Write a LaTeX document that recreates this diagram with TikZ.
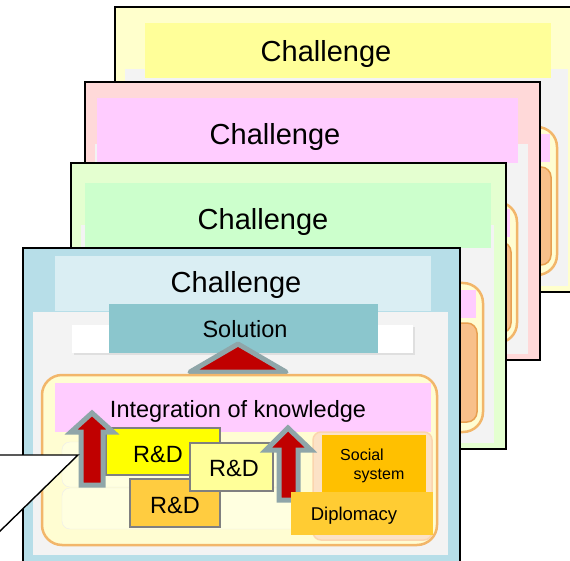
\documentclass[tikz,border=0pt]{standalone}
\usepackage{fontspec}
\setmainfont{Liberation Sans}
\usepackage{tikz}
\usetikzlibrary{positioning}

\definecolor{yellowcard}{HTML}{FFFFCC}
\definecolor{yellowtitle}{HTML}{FFFF99}
\definecolor{pinkcard}{HTML}{FFD9D9}
\definecolor{pinktitle}{HTML}{FFCCFF}
\definecolor{greencard}{HTML}{E4FFD0}
\definecolor{greentitle}{HTML}{CCFFCC}
\definecolor{frontcard}{HTML}{B7DEE8}
\definecolor{fronttitle}{HTML}{DAEEF3}
\definecolor{innergray}{HTML}{F3F3F3}
\definecolor{solfill}{HTML}{8BC6CD}
\definecolor{creamfill}{HTML}{FFFDD2}
\definecolor{creamline}{HTML}{F2B66A}
\definecolor{peach}{HTML}{F8C08A}
\definecolor{peachline}{HTML}{E8A050}
\definecolor{arrowred}{HTML}{C00000}
\definecolor{arrowgray}{HTML}{8FA6A9}
\definecolor{rdyellow}{HTML}{FFFF00}
\definecolor{rdlight}{HTML}{FFFF99}
\definecolor{rdorange}{HTML}{FFCC40}
\definecolor{socialfill}{HTML}{FFC000}
\definecolor{socialrim}{HTML}{FBD5AE}
\definecolor{diplofill}{HTML}{FFCC33}

\tikzstyle{card}      = [draw=black, line width=1.6pt]
\tikzstyle{cream}     = [fill=creamfill, draw=creamline, line width=2.5pt, rounded corners=20pt]
\tikzstyle{peachbox}  = [fill=peach, draw=peachline, line width=1.5pt, rounded corners=10pt]
\tikzstyle{rdbox}     = [draw=gray, line width=1.3pt]
\tikzstyle{blockup}   = [fill=arrowred, draw=arrowgray, line width=5pt, line join=miter]
\tikzstyle{big}       = [inner sep=0pt, anchor=base, font=\fontsize{29}{34}\selectfont]
\tikzstyle{mid}       = [inner sep=0pt, anchor=base, font=\fontsize{23.5}{28}\selectfont]
\tikzstyle{small}     = [inner sep=0pt, anchor=base, font=\fontsize{16}{19}\selectfont]

% a card lying behind: frame, grey page, cream frame, pink bar, peach box
\newcommand{\backcard}[5]{%
  \draw[card, fill=#5] (#1,#2) rectangle (#3,#4);
  \fill[innergray] (#1+10,#2+62) rectangle (#3-12,#4-6);
  \draw[cream] (#1+20,#2+120) rectangle (#3-23,#4-17);
  \fill[pinktitle] (#1+30,#2+127) rectangle (#3-30,#2+155);
  \draw[peachbox] (#3-70,#2+160) rectangle (#3-29,#4-27);
}

\begin{document}
\begin{tikzpicture}[x=1pt,y=-1pt]
        \clip (0,0) rectangle (570,561);

        % cards at the back
        \backcard{115}{7}{580}{292}{yellowcard}
        \fill[yellowtitle] (145,23) rectangle (551,78);
        \node[big] (chY) at (326,62) {Challenge};

        \backcard{85}{82}{540}{360}{pinkcard}
        \fill[pinktitle] (97,98) rectangle (518,163);
        \node[big] (chP) at (275,145) {Challenge};

        \backcard{71}{163}{506}{449}{greencard}
        \fill[greentitle] (85,183) rectangle (491,248);
        \node[big] (chG) at (263,230) {Challenge};

        % front card
        \draw[card, fill=frontcard] (23,248) rectangle (460,600);
        \fill[innergray] (33,312) rectangle (448,555);
        \fill[fronttitle] (55,256) rectangle (431,311);
        \node[big] (chF) at (236,293) {Challenge};

        \fill[gray!25] (74,327) rectangle (415,355);
        \fill[white] (72,325) rectangle (413,353);
        \fill[solfill] (109,304) rectangle (378,353);
        \node[mid] (sol) at (245,337) {Solution};
        \draw[blockup, line join=round] (190,372) -- (238,344) -- (286,372) -- cycle;

        \draw[cream] (42,375) rectangle (437,545);
        \draw[gray!15, fill=yellowcard!60, rounded corners=8pt] (62,442) rectangle (300,487);
        \draw[gray!15, fill=yellowcard!60, rounded corners=8pt] (62,488) rectangle (300,529);
        \fill[pinktitle] (55,383) rectangle (431,432);
        \node[mid] (integ) at (238,417) {Integration of knowledge};

        \draw[socialrim, fill=socialrim!70, line width=1.5pt, rounded corners=8pt] (313,432) rectangle (432,540);
        \fill[socialfill] (322,435) rectangle (426,493);
        \node[small] (soc1) at (362,460) {Social};
        \node[small] (soc2) at (379,479) {system};

        \draw[rdbox, fill=rdyellow] (106,428) rectangle (220,475);
        \draw[rdbox, fill=rdorange] (130,479) rectangle (220,527);
        \draw[rdbox, fill=rdlight] (190,443) rectangle (273,491);
        \node[mid] (rdA) at (158,462) {R\&D};
        \node[mid] (rdB) at (175,513) {R\&D};
        \node[mid] (rdC) at (234,476) {R\&D};

        % block arrows
        \draw[blockup] (92,413) -- (113,432) -- (103,432) -- (103,485) -- (81,485) -- (81,432) -- (71,432) -- cycle;
        \draw[blockup] (288,428) -- (311,450) -- (298,450) -- (298,500) -- (279,500) -- (279,450) -- (266,450) -- cycle;

        \fill[diplofill] (291,492) rectangle (433,535);
        \node[small, font=\fontsize{18.5}{22}\selectfont] (diplo) at (354,520) {Diplomacy};

        % callout pointer
        \draw[fill=white, line width=1.4pt] (-5,455) -- (78,455) -- (-5,536) -- cycle;
    \end{tikzpicture}
\end{document}
